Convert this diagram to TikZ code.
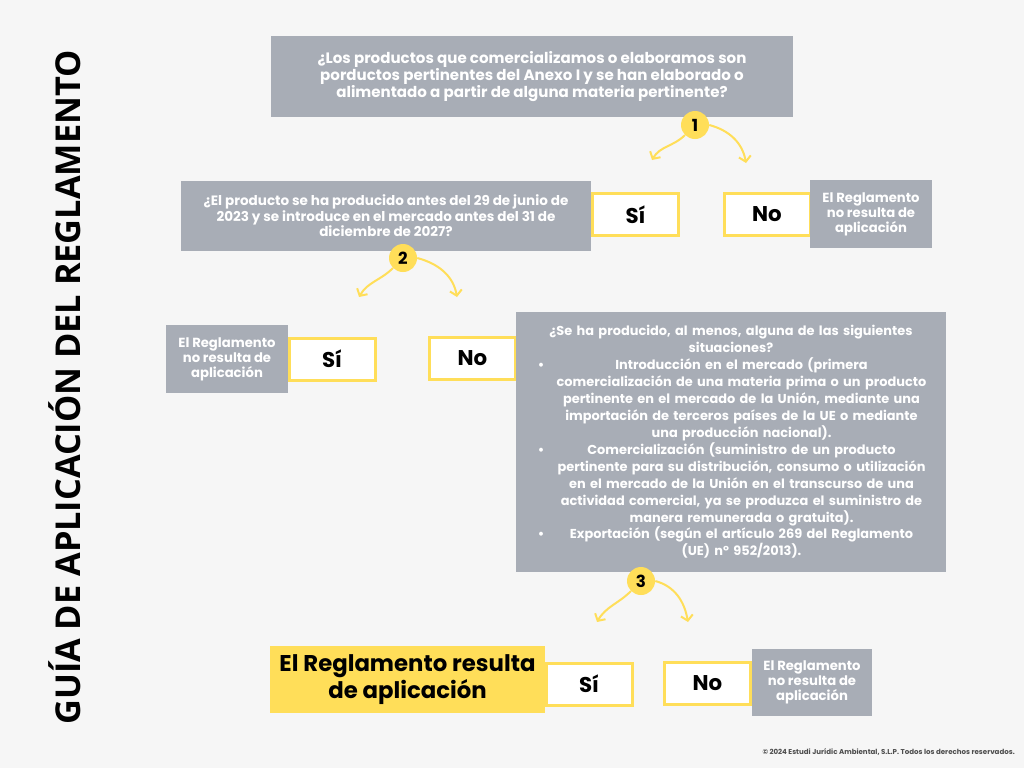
\documentclass[tikz,border=0pt]{standalone}
\usepackage{fontspec}
\setmainfont{Poppins}
\newfontfamily\titlefont{Open Sans}
\usepackage{xcolor}
\usetikzlibrary{arrows.meta, positioning, calc}

\definecolor{bgcol}{HTML}{F6F6F6}
\definecolor{boxgray}{HTML}{A8ADB6}
\definecolor{mustard}{HTML}{FFDE59}
\definecolor{notegray}{HTML}{4D4D4D}

\newcommand{\itemrow}[1]{\makebox[15.75pt][c]{\textbullet}\parbox[t]{285pt}{\centering #1}}

\begin{document}
\begin{tikzpicture}[x=0.75pt, y=-0.75pt,
    question/.style={fill=boxgray, text=white, align=center, inner sep=0pt,
        font=\fontsize{10.15}{11.6}\selectfont\bfseries},
    answer/.style={draw=mustard, line width=2.25pt, fill=white, inner sep=0pt,
        minimum width=64.5pt, minimum height=31.5pt, font=\fontsize{16}{18}\selectfont\bfseries},
    result/.style={fill=boxgray, text=white, align=center, inner sep=0pt,
        minimum width=91.5pt, minimum height=51pt, font=\fontsize{9.9}{11.25}\selectfont\bfseries},
    numdot/.style={circle, fill=mustard, minimum size=21pt, inner sep=0pt,
        font=\fontsize{12.5}{12.5}\selectfont\bfseries},
    flow/.style={draw=mustard, line width=1.5pt, -{Straight Barb[length=4pt,width=9pt]}},
]
\fill[bgcol] (0,0) rectangle (1024,768);
\useasboundingbox (0,0) rectangle (1024,768);

% title
\node[rotate=90, font=\titlefont\fontsize{25.7}{25.7}\selectfont\bfseries] (title) at (64.5,387.5)
    {GUÍA DE APLICACIÓN DEL REGLAMENTO};

% question 1
\node[question, minimum width=391.5pt, minimum height=60.75pt,
    font=\fontsize{11.3}{12.5}\selectfont\bfseries] (q1) at (532,76.5)
    {¿Los productos que comercializamos o elaboramos son\\
     porductos pertinentes del Anexo I y se han elaborado o\\
     alimentado a partir de alguna materia pertinente?};

% question 2 and its answers
\node[question, minimum width=307.5pt, minimum height=52.5pt] (q2) at (386,216)
    {¿El producto se ha producido antes del 29 de junio de\\
     2023 y se introduce en el mercado antes del 31 de\\
     diciembre de 2027?};
\node[answer] (si1) at (635.5,214.5) {Sí};
\node[answer] (no1) at (767,214.5) {No};
\node[result] (r1) at (871,214) {El Reglamento\\ no resulta de\\ aplicación};

% question 3 and answers to question 2
\node[result] (r2) at (227,359) {El Reglamento\\ no resulta de\\ aplicación};
\node[answer] (si2) at (332,359) {Sí};
\node[answer] (no2) at (472.5,358) {No};
\node[question, minimum width=322.5pt, minimum height=195pt, text width=300.75pt,
    font=\fontsize{9.7}{12.75}\selectfont\bfseries] (q3) at (731,442)
    {¿Se ha producido, al menos, alguna de las siguientes\\ situaciones?\\
     \itemrow{Introducción en el mercado (primera\\
        comercialización de una materia prima o un producto\\
        pertinente en el mercado de la Unión, mediante una\\
        importación de terceros países de la UE o mediante\\
        una producción nacional).}\\
     \itemrow{Comercialización (suministro de un producto\\
        pertinente para su distribución, consumo o utilización\\
        en el mercado de la Unión en el transcurso de una\\
        actividad comercial, ya se produzca el suministro de\\
        manera remunerada o gratuita).}\\
     \itemrow{Exportación (según el artículo 269 del Reglamento\\
        (UE) nº 952/2013).}};

% answers to question 3
\node[fill=mustard, align=center, inner sep=0pt, minimum width=206.25pt, minimum height=50.25pt,
    font=\fontsize{17.1}{17.25}\selectfont\bfseries] (r3yes) at (407.5,679.5)
    {El Reglamento resulta\\ de aplicación};
\node[answer] (si3) at (589,684) {Sí};
\node[answer] (no3) at (707.5,683.5) {No};
\node[result, minimum width=90pt, minimum height=50.25pt] (r3) at (812,682.5)
    {El Reglamento\\ no resulta de\\ aplicación};

% numbered branch points
\node[numdot] (n1) at (695,125) {1};
\node[numdot] (n2) at (403,258) {2};
\node[numdot] (n3) at (641,581) {3};

\coordinate (a1l) at (652,160);
\coordinate (a1r) at (746,163);
\coordinate (a2l) at (359,297);
\coordinate (a2r) at (457,297);
\coordinate (a3l) at (597,622);
\coordinate (a3r) at (688,622);

\draw[flow] (n1.225) to[out=225,in=60] (a1l);
\draw[flow] (n1.0) to[out=-15,in=100] (a1r);
\draw[flow] (n2.225) to[out=225,in=60] (a2l);
\draw[flow] (n2.0) to[out=-15,in=100] (a2r);
\draw[flow] (n3.225) to[out=225,in=60] (a3l);
\draw[flow] (n3.0) to[out=-15,in=100] (a3r);

% footer
\node[anchor=east, inner sep=0pt, text=notegray, font=\fontsize{5.3}{6}\selectfont\bfseries]
    (credit) at (1015,752) {© 2024 Estudi Jurídic Ambiental, S.L.P. Todos los derechos reservados.};
\end{tikzpicture}
\end{document}
